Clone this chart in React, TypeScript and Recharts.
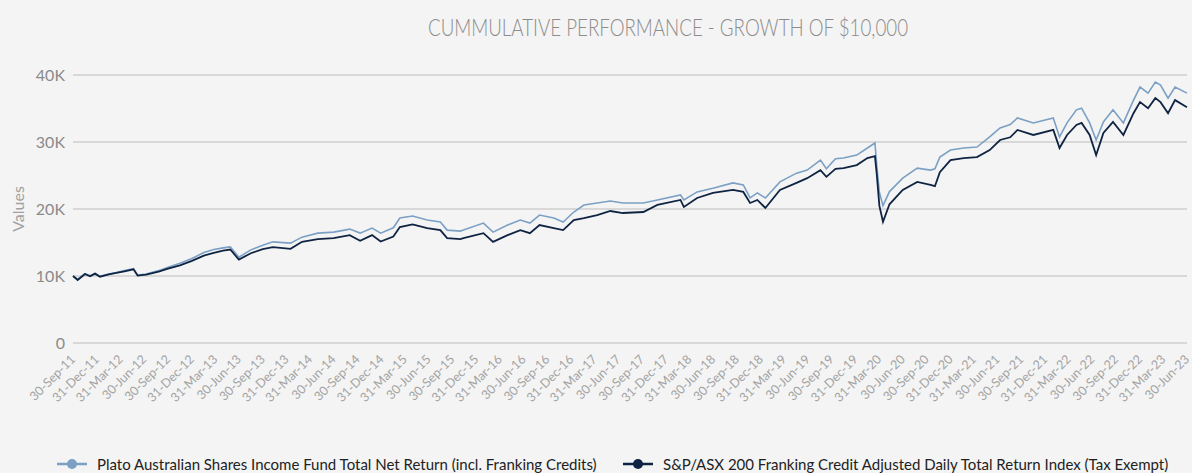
import { LineChart, Line, XAxis, YAxis, CartesianGrid, Legend } from 'recharts'

const TITLE = 'CUMMULATIVE PERFORMANCE - GROWTH OF $10,000'
const FUND_NAME = 'Plato Australian Shares Income Fund Total Net Return (incl. Franking Credits)'
const INDEX_NAME = 'S&P/ASX 200 Franking Credit Adjusted Daily Total Return Index (Tax Exempt)'

const DATES = [
  '2011-09-30', '2011-10-18', '2011-11-15', '2011-12-05', '2011-12-24', '2012-01-12', '2012-02-15',
  '2012-03-15', '2012-04-15', '2012-05-20', '2012-06-05', '2012-07-08', '2012-08-25', '2012-09-30',
  '2012-11-15', '2012-12-31', '2013-02-15', '2013-03-25', '2013-04-30', '2013-05-28', '2013-06-30',
  '2013-08-15', '2013-09-30', '2013-11-08', '2014-01-15', '2014-02-28', '2014-04-30', '2014-06-30',
  '2014-08-31', '2014-10-10', '2014-11-25', '2014-12-28', '2015-02-15', '2015-03-12', '2015-04-30',
  '2015-06-25', '2015-08-15', '2015-09-10', '2015-10-31', '2015-11-12', '2016-01-28', '2016-03-05',
  '2016-04-30', '2016-06-18', '2016-07-25', '2016-08-31', '2016-10-25', '2016-11-30', '2017-01-10',
  '2017-02-18', '2017-04-10', '2017-05-31', '2017-07-18', '2017-10-05', '2017-11-28', '2018-02-25',
  '2018-03-10', '2018-04-30', '2018-06-30', '2018-09-15', '2018-10-25', '2018-11-20', '2018-12-18',
  '2019-01-18', '2019-03-15', '2019-05-18', '2019-06-28', '2019-08-18', '2019-09-10', '2019-10-15',
  '2019-11-15', '2020-01-05', '2020-02-15', '2020-03-15', '2020-03-22', '2020-04-01', '2020-04-15',
  '2020-05-10', '2020-06-30', '2020-08-25', '2020-10-15', '2020-11-01', '2020-11-20', '2020-12-31',
  '2021-02-20', '2021-04-12', '2021-05-31', '2021-07-10', '2021-08-18', '2021-09-15', '2021-11-15',
  '2022-01-31', '2022-02-24', '2022-03-25', '2022-04-30', '2022-05-20', '2022-06-20', '2022-07-15',
  '2022-08-12', '2022-09-18', '2022-10-28', '2022-12-06', '2022-12-31', '2023-01-31', '2023-02-28',
  '2023-03-20', '2023-04-18', '2023-05-15', '2023-06-30',
]

const FUND = [
  10000, 9500, 10350, 10050, 10400, 9950, 10300,
  10500, 10800, 11100, 10150, 10300, 10800, 11300,
  11900, 12600, 13500, 13950, 14200, 14350, 12800,
  13900, 14600, 15100, 14900, 15800, 16400, 16550,
  17000, 16400, 17150, 16400, 17200, 18650, 18950,
  18350, 18050, 16850, 16700, 16850, 17900, 16550,
  17600, 18350, 17900, 19100, 18650, 18050, 19550,
  20600, 20900, 21200, 20900, 20900, 21350, 22100,
  21350, 22550, 23100, 23900, 23600, 21650, 22400,
  21650, 24050, 25350, 25800, 27300, 26000, 27500,
  27600, 28050, 29100, 29850, 26500, 22500, 20500,
  22600, 24600, 26100, 25800, 26000, 27750, 28800,
  29100, 29250, 30750, 32100, 32600, 33600, 32850,
  33600, 30750, 32850, 34800, 35050, 32850, 30300,
  33000, 34800, 32850, 36250, 38200, 37300, 38950,
  38500, 36550, 38200, 37300,
]

const INDEX = [
  10000, 9400, 10300, 9950, 10350, 9900, 10250,
  10450, 10700, 11000, 10050, 10200, 10650, 11100,
  11600, 12250, 13050, 13450, 13800, 13950, 12450,
  13400, 14000, 14300, 14050, 15100, 15500, 15650,
  16100, 15250, 16100, 15150, 15900, 17300, 17700,
  17150, 16850, 15650, 15500, 15650, 16400, 15100,
  16100, 16850, 16400, 17600, 17150, 16850, 18350,
  18650, 19100, 19700, 19400, 19550, 20600, 21350,
  20300, 21650, 22400, 22850, 22550, 20900, 21350,
  20150, 22850, 23900, 24600, 25800, 24800, 26000,
  26100, 26550, 27600, 27900, 25200, 20500, 18100,
  20700, 22850, 24050, 23600, 23400, 25500, 27300,
  27600, 27750, 28800, 30300, 30700, 31800, 31050,
  31800, 29100, 31050, 32550, 32850, 31050, 28050,
  31350, 33000, 31050, 34300, 35950, 35050, 36550,
  35950, 34300, 36250, 35200,
]

const TICK_DATES = [
  '2011-09-30', '2011-12-31', '2012-03-31', '2012-06-30', '2012-09-30', '2012-12-31',
  '2013-03-31', '2013-06-30', '2013-09-30', '2013-12-31', '2014-03-31', '2014-06-30',
  '2014-09-30', '2014-12-31', '2015-03-31', '2015-06-30', '2015-09-30', '2015-12-31',
  '2016-03-31', '2016-06-30', '2016-09-30', '2016-12-31', '2017-03-31', '2017-06-30',
  '2017-09-30', '2017-12-31', '2018-03-31', '2018-06-30', '2018-09-30', '2018-12-31',
  '2019-03-31', '2019-06-30', '2019-09-30', '2019-12-31', '2020-03-31', '2020-06-30',
  '2020-09-30', '2020-12-31', '2021-03-31', '2021-06-30', '2021-09-30', '2021-12-31',
  '2022-03-31', '2022-06-30', '2022-09-30', '2022-12-31', '2023-03-31', '2023-06-30',
]

const Y_TICKS = [0, 10000, 20000, 30000, 40000]
const MONTHS = ['Jan', 'Feb', 'Mar', 'Apr', 'May', 'Jun', 'Jul', 'Aug', 'Sep', 'Oct', 'Nov', 'Dec']

const FUND_COLOR = '#7ba0c4'
const INDEX_COLOR = '#0f2442'
const FONT = 'Lato, "Open Sans", sans-serif'

const data = DATES.map((d, i) => ({ t: Date.parse(d), fund: FUND[i], index: INDEX[i] }))
const ticks = TICK_DATES.map((d) => Date.parse(d))

function fmtDate(t: number) {
  const d = new Date(t)
  return `${d.getUTCDate()}-${MONTHS[d.getUTCMonth()]}-${String(d.getUTCFullYear()).slice(2)}`
}

function DateTick({ x, y, payload }: any) {
  return (
    <g transform={`translate(${x},${y + 6})`}>
      <text
        x={0}
        y={0}
        dy="0.35em"
        textAnchor="end"
        transform="rotate(-45)"
        fill="#a3a3a3"
        fontSize={12.5}
        fontFamily={FONT}
      >
        {fmtDate(payload.value)}
      </text>
    </g>
  )
}

function LegendContent() {
  const items = [
    { name: FUND_NAME, color: FUND_COLOR, left: 57 },
    { name: INDEX_NAME, color: INDEX_COLOR, left: 623 },
  ]
  return (
    <div style={{ position: 'relative', height: 30 }}>
      {items.map((it) => (
        <div
          key={it.name}
          style={{
            position: 'absolute',
            left: it.left,
            top: 12,
            display: 'flex',
            alignItems: 'center',
            whiteSpace: 'nowrap',
            fontFamily: FONT,
            fontSize: 15,
            color: '#222',
          }}
        >
          <svg width={30} height={12} style={{ marginRight: 10 }}>
            <line x1={0} y1={6} x2={30} y2={6} stroke={it.color} strokeWidth={2.5} />
            <circle cx={15} cy={6} r={5} fill={it.color} />
          </svg>
          {it.name}
        </div>
      ))}
    </div>
  )
}

export default function App() {
  return (
    <div style={{ position: 'relative', width: 1192, height: 473, background: '#f4f4f4' }}>
      <style>{'body{margin:0}'}</style>
      <svg width={1192} height={50} style={{ position: 'absolute', top: 0, left: 0 }}>
        <text
          x={428}
          y={36}
          textLength={480}
          lengthAdjust="spacingAndGlyphs"
          fill="#8c8c8c"
          fontSize={24}
          fontWeight={300}
          fontFamily={FONT}
        >
          {TITLE}
        </text>
      </svg>
      <LineChart
        width={1192}
        height={473}
        data={data}
        margin={{ top: 75, right: 5, left: 0, bottom: 0 }}
      >
        <CartesianGrid vertical={false} stroke="#cfcfcf" strokeWidth={1.5} />
        <XAxis
          dataKey="t"
          type="number"
          domain={[ticks[0], ticks[ticks.length - 1]]}
          ticks={ticks}
          interval={0}
          tick={<DateTick />}
          tickLine={false}
          axisLine={false}
          height={100}
        />
        <YAxis
          domain={[0, 40000]}
          ticks={Y_TICKS}
          tickFormatter={(v: number) => (v === 0 ? '0' : `${v / 1000}K`)}
          tick={{ fill: '#8a8a8a', fontSize: 16, fontFamily: FONT }}
          tickLine={false}
          axisLine={false}
          width={73}
          label={{
            value: 'Values',
            angle: -90,
            position: 'insideLeft',
            offset: 18,
            style: { fill: '#a0a0a0', fontSize: 16, fontFamily: FONT, textAnchor: 'middle' },
          }}
        />
        <Legend verticalAlign="bottom" height={30} content={<LegendContent />} />
        <Line
          type="linear"
          dataKey="fund"
          stroke={FUND_COLOR}
          strokeWidth={1.6}
          dot={false}
          isAnimationActive={false}
        />
        <Line
          type="linear"
          dataKey="index"
          stroke={INDEX_COLOR}
          strokeWidth={1.8}
          dot={false}
          isAnimationActive={false}
        />
      </LineChart>
    </div>
  )
}
